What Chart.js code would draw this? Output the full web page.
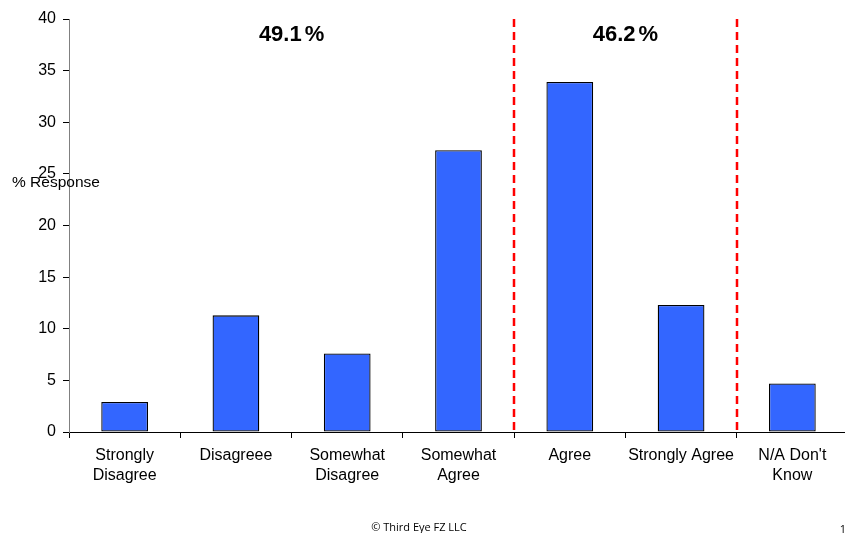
<!DOCTYPE html>
<html>
<head>
<meta charset="utf-8">
<script src="https://cdn.jsdelivr.net/npm/chart.js@4/dist/chart.umd.min.js"></script>
<style>
  html, body { margin: 0; padding: 0; background: #fff; overflow: hidden; }
  #wrap { width: 845px; height: 533px; position: relative; overflow: hidden; }
  #c { position: absolute; left: 0; top: 0; }
</style>
</head>
<body>
<div id="wrap"><canvas id="c" width="848" height="533"></canvas></div>
<script>
// Response categories (multi-line labels)
const categories = [
  ["Strongly", "Disagree"],
  ["Disagreee"],
  ["Somewhat", "Disagree"],
  ["Somewhat", "Agree"],
  ["Agree"],
  ["Strongly Agree"],
  ["N/A Don't", "Know"]
];
// % of respondents per category
const responses = [2.9, 11.3, 7.6, 27.3, 33.9, 12.3, 4.7];
// Group totals shown above each block
const groupLabels = ["49.1%", "46.2%"];
const groupPositions = [1.5, 4.5];
// Dividers between the disagree / agree / don't-know groups
const dividerPositions = [3.5, 5.5];
const yTicks = [0, 5, 10, 15, 20, 25, 30, 35, 40];

const FONT = "'Liberation Sans', Arial, sans-serif";

const overlay = {
  id: 'overlay',
  afterDatasetsDraw(chart) {
    const { ctx, scales: { x, y } } = chart;
    ctx.save();
    // red dashed dividers
    ctx.strokeStyle = '#ff0000';
    ctx.lineWidth = 2.5;
    ctx.setLineDash([8, 5]);
    dividerPositions.forEach(p => {
      const px = Math.round(x.getPixelForValue(p));
      ctx.beginPath();
      ctx.moveTo(px, y.getPixelForValue(40));
      ctx.lineTo(px, y.getPixelForValue(0));
      ctx.stroke();
    });
    ctx.setLineDash([]);
    // group totals: number, small gap, percent sign
    ctx.fillStyle = '#000';
    ctx.font = "bold 22px " + FONT;
    ctx.textAlign = 'left';
    ctx.textBaseline = 'middle';
    const gap = 3;
    groupLabels.forEach((t, i) => {
      const num = t.slice(0, -1), pct = t.slice(-1);
      const wn = ctx.measureText(num).width, wp = ctx.measureText(pct).width;
      const total = wn + gap + wp;
      const cx = x.getPixelForValue(groupPositions[i]);
      const cy = y.getPixelForValue(38.5);
      const x0 = cx - total / 2;
      ctx.fillText(num, x0, cy);
      ctx.fillText(pct, x0 + wn + gap, cy);
    });
    // axis title
    ctx.font = "15.5px " + FONT;
    ctx.textAlign = 'left';
    ctx.fillText("% Response", 12, 183);
    // footer
    ctx.font = "11px 'Open Sans', 'Liberation Sans', sans-serif";
    ctx.textAlign = 'center';
    ctx.fillText("\u00A9 Third Eye FZ LLC", 419, 528);
    ctx.fillText("1", 843, 530);
    ctx.restore();
  }
};

new Chart(document.getElementById('c'), {
  type: 'bar',
  data: {
    labels: categories,
    datasets: [{
      data: responses,
      backgroundColor: '#3366ff',
      borderColor: '#000000',
      borderWidth: 1.3,
      borderSkipped: false,
      categoryPercentage: 1.0,
      barPercentage: 0.42
    }]
  },
  options: {
    responsive: false,
    animation: false,
    layout: { padding: { top: 19, right: 0, left: 0, bottom: 0 } },
    plugins: { legend: { display: false }, tooltip: { enabled: false } },
    scales: {
      x: {
        offset: true,
        grid: { display: true, drawOnChartArea: false, drawTicks: true, tickLength: 6, color: '#000', offset: true },
        border: { color: '#000', width: 1 },
        ticks: { color: '#000', font: { family: FONT, size: 16, lineHeight: 1.25 }, padding: 8, maxRotation: 0, autoSkip: false },
        afterFit(scale) { scale.height = 101; }
      },
      y: {
        min: 0, max: 40,
        afterBuildTicks(scale) { scale.ticks = yTicks.map(v => ({ value: v })); },
        grid: { display: true, drawOnChartArea: false, drawTicks: true, tickLength: 6, color: '#000' },
        border: { color: '#808080', width: 1 },
        ticks: { color: '#000', font: { family: FONT, size: 16 }, padding: 7 },
        afterFit(scale) { scale.width = 69; }
      }
    }
  },
  plugins: [overlay]
});
</script>
</body>
</html>
